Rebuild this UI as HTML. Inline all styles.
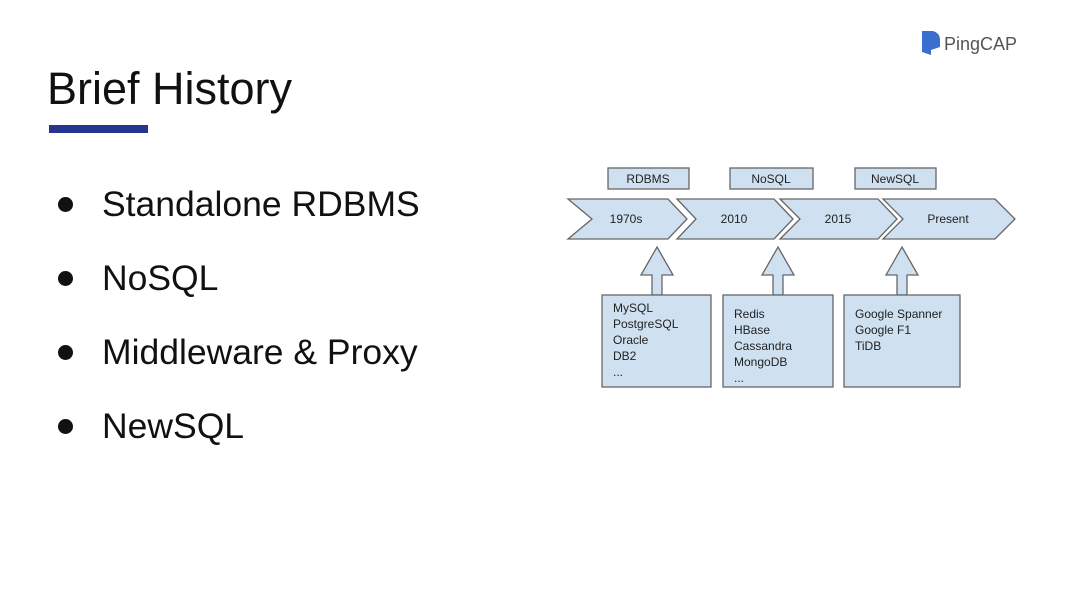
<!DOCTYPE html>
<html><head><meta charset="utf-8"><style>
body{margin:0;width:1080px;height:597px;background:#fff;overflow:hidden;position:relative;font-family:"Liberation Sans",sans-serif}
.t{position:absolute;left:47px;top:63px;font-size:45px;color:#111}
.bar{position:absolute;left:49px;top:125px;width:99px;height:8px;background:#26358f}
.b{position:absolute;left:102px;font-size:35.5px;color:#111}
.d{position:absolute;left:58px;width:15px;height:15px;border-radius:50%;background:#111}
</style></head><body>
<div class="t">Brief History</div><div class="bar"></div>
<div class="d" style="top:197px"></div><div class="b" style="top:184px">Standalone RDBMS</div>
<div class="d" style="top:271px"></div><div class="b" style="top:258px">NoSQL</div>
<div class="d" style="top:345px"></div><div class="b" style="top:332px">Middleware &amp; Proxy</div>
<div class="d" style="top:419px"></div><div class="b" style="top:406px">NewSQL</div>
<svg width="1080" height="597" style="position:absolute;left:0;top:0" font-family="Liberation Sans, sans-serif">
<path d="M922 31 L933 31 Q940 33 940 40 L940 47 L931 50 L931 55 L922 52 Z" fill="#3a6fd0"/>
<text x="944" y="50" font-size="18" fill="#555">PingCAP</text>
<g fill="#cfe0f1" stroke="#666" stroke-width="1.3">
<rect x="608" y="168" width="81" height="21"/><rect x="730" y="168" width="83" height="21"/><rect x="855" y="168" width="81" height="21"/>
<path d="M568 199 L668 199 L687 219 L668 239 L568 239 L592 219 Z"/>
<path d="M677 199 L774 199 L793 219 L774 239 L677 239 L696 219 Z"/>
<path d="M780 199 L878 199 L897 219 L878 239 L780 239 L800 219 Z"/>
<path d="M883 199 L995 199 L1015 219 L995 239 L883 239 L903 219 Z"/>
<path d="M657 247 L673 275 L662 275 L662 295 L652 295 L652 275 L641 275 Z"/>
<path d="M778 247 L794 275 L783 275 L783 295 L773 295 L773 275 L762 275 Z"/>
<path d="M902 247 L918 275 L907 275 L907 295 L897 295 L897 275 L886 275 Z"/>
<rect x="602" y="295" width="109" height="92"/><rect x="723" y="295" width="110" height="92"/><rect x="844" y="295" width="116" height="92"/>
</g>
<g font-size="12" fill="#222">
<text x="648" y="183" text-anchor="middle">RDBMS</text><text x="771" y="183" text-anchor="middle">NoSQL</text><text x="895" y="183" text-anchor="middle">NewSQL</text>
<text x="626" y="223" text-anchor="middle">1970s</text><text x="734" y="223" text-anchor="middle">2010</text><text x="838" y="223" text-anchor="middle">2015</text><text x="948" y="223" text-anchor="middle">Present</text>
<text x="613" y="312">MySQL</text><text x="613" y="328">PostgreSQL</text><text x="613" y="344">Oracle</text><text x="613" y="360">DB2</text><text x="613" y="376">...</text>
<text x="734" y="318">Redis</text><text x="734" y="334">HBase</text><text x="734" y="350">Cassandra</text><text x="734" y="366">MongoDB</text><text x="734" y="382">...</text>
<text x="855" y="318">Google Spanner</text><text x="855" y="334">Google F1</text><text x="855" y="350">TiDB</text>
</g></svg>
</body></html>
